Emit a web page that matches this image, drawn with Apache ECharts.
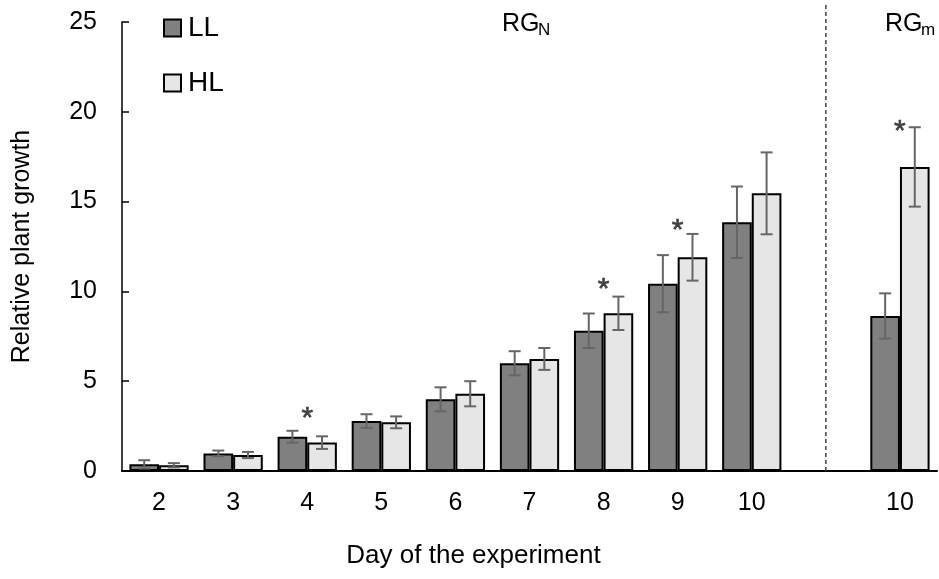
<!DOCTYPE html>
<html>
<head>
<meta charset="utf-8">
<script src="https://cdn.jsdelivr.net/npm/echarts@6/dist/echarts.min.js"></script>
<style>
  html, body { margin: 0; padding: 0; background: #fff; }
  #chart { width: 939px; height: 579px; }
</style>
</head>
<body>
<div id="chart"></div>
<script>
// day labels; the empty slot separates RG_N from RG_m
const days = ['2', '3', '4', '5', '6', '7', '8', '9', '10', '', '10'];
const llMean = [0.37, 0.98, 1.91, 2.78, 3.99, 6.0, 7.81, 10.43, 13.85, null, 8.63];
const llErr = [0.23, 0.16, 0.33, 0.38, 0.67, 0.67, 0.96, 1.59, 1.99, null, 1.26];
const hlMean = [0.32, 0.89, 1.58, 2.71, 4.30, 6.24, 8.78, 11.9, 15.46, null, 16.93];
const hlErr = [0.12, 0.17, 0.35, 0.33, 0.70, 0.61, 0.93, 1.30, 2.28, null, 2.21];
// significance marks: category index and height of the star
const sigIndex = [2, 6, 7, 10];
const sigY = [3.28, 10.5, 13.75, 19.26];
const yTicks = [0, 5, 10, 15, 20, 25];
// dashed separator: category slot and its vertical span
const sepIndex = 9;
const sepSpan = [0, 26];

const FONT = '"Liberation Sans", Arial, sans-serif';
const chart = echarts.init(document.getElementById('chart'));

function errData(mean, err) {
    const out = [];
    mean.forEach(function (m, i) {
        if (m !== null) out.push([i, m, err[i]]);
    });
    return out;
}

// error bar drawn at the left (-1) or right (+1) bar of the pair
function makeErrRender(side) {
    return function (params, api) {
        const i = api.value(0);
        const m = api.value(1);
        const e = api.value(2);
        const band = api.size([1, 0])[0];
        const dx = side * band * 0.8 / 4;
        const hi = api.coord([i, m + e]);
        const lo = api.coord([i, m - e]);
        const x = hi[0] + dx;
        const cap = 6;
        const st = { stroke: '#666', lineWidth: 2 };
        return {
            type: 'group',
            children: [
                { type: 'line', shape: { x1: x, y1: hi[1], x2: x, y2: lo[1] }, style: st },
                { type: 'line', shape: { x1: x - cap, y1: hi[1], x2: x + cap, y2: hi[1] }, style: st },
                { type: 'line', shape: { x1: x - cap, y1: lo[1], x2: x + cap, y2: lo[1] }, style: st }
            ]
        };
    };
}

const renderStar = function (params, api) {
    const p = api.coord([api.value(0), api.value(1)]);
    return {
        type: 'text',
        x: p[0],
        y: p[1] + 7,
        style: {
            text: '*',
            font: '30px ' + FONT,
            fill: '#404040',
            stroke: '#404040',
            lineWidth: 0.6,
            align: 'center',
            verticalAlign: 'middle'
        }
    };
};

const renderSep = function (params, api) {
    const a = api.coord([api.value(0), api.value(1)]);
    const b = api.coord([api.value(0), api.value(2)]);
    return {
        type: 'line',
        shape: { x1: a[0], y1: a[1], x2: b[0], y2: b[1] },
        style: { stroke: '#444', lineWidth: 1.5, lineDash: [4, 3] }
    };
};

const option = {
    animation: false,
    backgroundColor: '#fff',
    grid: { left: 122, right: 2, top: 22, bottom: 108 },
    legend: {
        orient: 'vertical',
        left: 163,
        top: 14,
        padding: 0,
        itemWidth: 17,
        itemHeight: 17,
        itemGap: 27,
        icon: 'rect',
        textStyle: { fontFamily: FONT, fontSize: 28, color: '#000', padding: [0, 0, 0, 2] },
        data: ['LL', 'HL']
    },
    xAxis: {
        type: 'category',
        data: days,
        axisLine: { lineStyle: { color: '#000', width: 2 } },
        axisTick: { show: false },
        axisLabel: { interval: 0, margin: 20, fontFamily: FONT, fontSize: 25, color: '#000' },
        name: 'Day of the experiment',
        nameLocation: 'middle',
        nameGap: 72,
        nameTextStyle: { fontFamily: FONT, fontSize: 26, color: '#000', padding: [0, 112, 0, 0] }
    },
    yAxis: {
        type: 'value',
        min: yTicks[0],
        max: yTicks[yTicks.length - 1],
        interval: 5,
        axisLine: { show: true, lineStyle: { color: '#000', width: 1.5 } },
        axisTick: { show: true, inside: true, length: 7, lineStyle: { color: '#000', width: 1.5 } },
        splitLine: { show: false },
        axisLabel: { margin: 25, fontFamily: FONT, fontSize: 25, color: '#000' },
        name: 'Relative plant growth',
        nameLocation: 'middle',
        nameGap: 87,
        nameTextStyle: { fontFamily: FONT, fontSize: 25, color: '#000' }
    },
    graphic: [
        { type: 'text', left: 502, top: 12, style: { text: 'RG', font: '25px ' + FONT, fill: '#000' } },
        { type: 'text', left: 538, top: 22, style: { text: 'N', font: '17px ' + FONT, fill: '#000' } },
        { type: 'text', left: 885, top: 12, style: { text: 'RG', font: '25px ' + FONT, fill: '#000' } },
        { type: 'text', left: 921, top: 22, style: { text: 'm', font: '17px ' + FONT, fill: '#000' } }
    ],
    series: [
        {
            name: 'LL',
            type: 'bar',
            data: llMean.map(function (v) { return v === null ? '-' : v; }),
            barGap: '0%',
            barCategoryGap: '20%',
            itemStyle: { color: '#808080', borderColor: '#000', borderWidth: 2 }
        },
        {
            name: 'HL',
            type: 'bar',
            data: hlMean.map(function (v) { return v === null ? '-' : v; }),
            barGap: '0%',
            barCategoryGap: '20%',
            itemStyle: { color: '#e6e6e6', borderColor: '#000', borderWidth: 2 }
        },
        {
            type: 'custom',
            renderItem: makeErrRender(-1),
            data: errData(llMean, llErr),
            z: 5,
            silent: true
        },
        {
            type: 'custom',
            renderItem: makeErrRender(1),
            data: errData(hlMean, hlErr),
            z: 5,
            silent: true
        },
        {
            type: 'custom',
            renderItem: renderStar,
            data: sigIndex.map(function (i, k) { return [i, sigY[k]]; }),
            z: 6,
            silent: true
        },
        {
            type: 'custom',
            renderItem: renderSep,
            clip: false,
            data: [[sepIndex, sepSpan[0], sepSpan[1]]],
            encode: { x: 0, y: [1, 2] },
            z: 4,
            silent: true
        }
    ]
};
chart.setOption(option);
</script>
</body>
</html>
